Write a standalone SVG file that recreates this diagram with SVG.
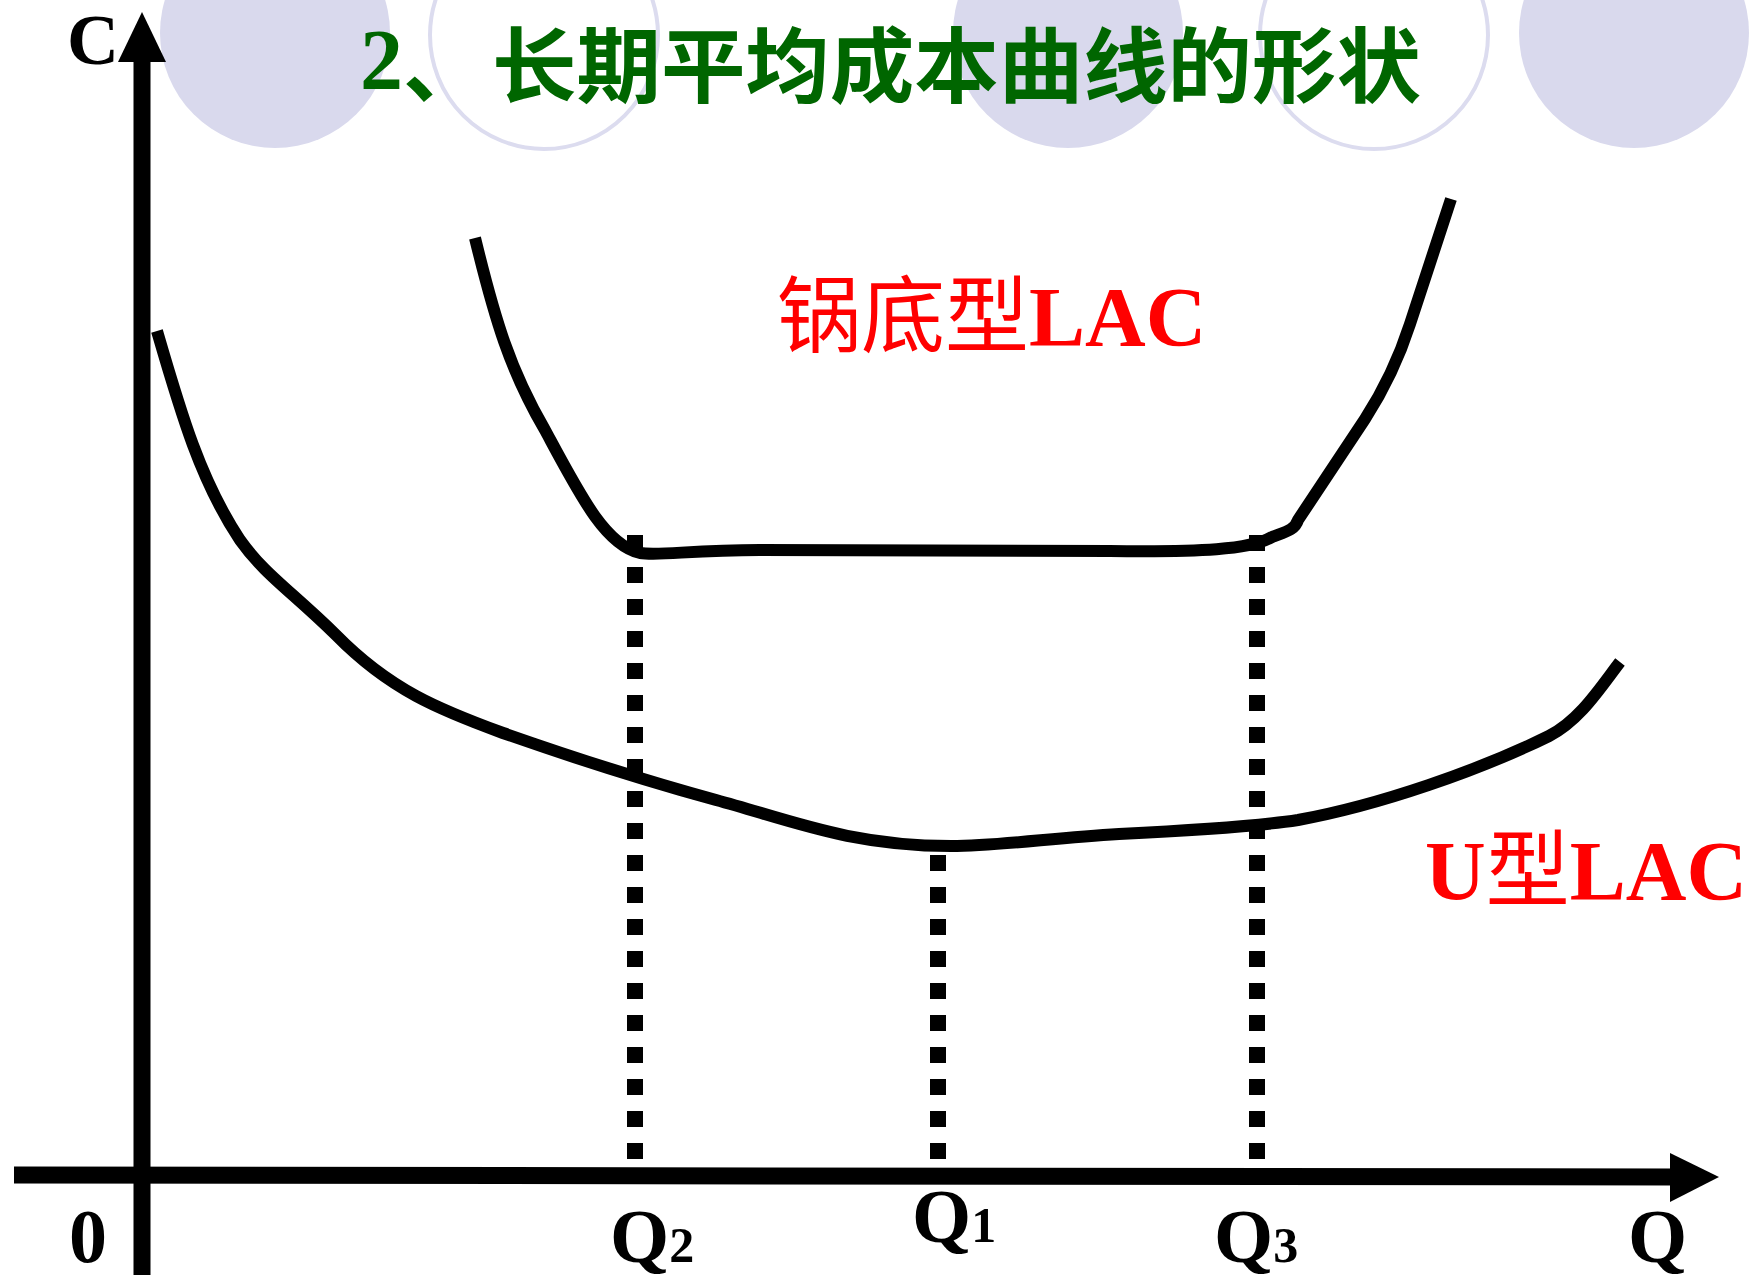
<svg xmlns="http://www.w3.org/2000/svg" width="1754" height="1275" viewBox="0 0 1754 1275">
<style>
.bgfill{fill:#D9D9ED;stroke:none}
.bgring{fill:none;stroke:#DCDCEF;stroke-width:4}
.title{font-family:"Noto Sans CJK SC","Noto Sans",sans-serif;font-weight:700;fill:#006600}
.titlenum{font-family:"Liberation Serif",serif;font-weight:700;fill:#006600}
.curve{fill:none;stroke:#000;stroke-width:12;stroke-linecap:butt;stroke-linejoin:round}
.axis{stroke:#000;stroke-width:17;fill:none}
.dash{stroke:#000;stroke-width:16;stroke-dasharray:16 16;fill:none}
.lab{font-family:"Liberation Serif","Times New Roman",serif;font-weight:700;fill:#000}
.red{font-family:"Liberation Serif","Times New Roman",serif;font-weight:700;fill:#FF0000;font-size:84px}
.redcjk{font-family:"Noto Sans CJK SC","Noto Sans",sans-serif;font-weight:400}
</style>
<rect x="0" y="0" width="1754" height="1275" fill="#FFFFFF"/>
<g id="background">
<circle class="bgfill" cx="275" cy="33" r="115"/>
<circle class="bgring" cx="544" cy="35" r="114"/>
<circle class="bgfill" cx="1068" cy="33" r="115"/>
<circle class="bgring" cx="1374" cy="35" r="114"/>
<circle class="bgfill" cx="1634" cy="33" r="115"/>
</g>
<g id="title">
<text class="titlenum" x="360" y="89" font-size="86">2</text>
<text class="title" x="403" y="96" font-size="82">、</text>
<text class="title" x="492" y="96" font-size="82" textLength="929" lengthAdjust="spacingAndGlyphs">长期平均成本曲线的形状</text>
</g>
<g id="axes">
<line class="axis" x1="142" y1="58" x2="142" y2="1275"/>
<polygon points="142,12 118,62 166,62" fill="#000"/>
<line class="axis" x1="14" y1="1175" x2="1674" y2="1177" stroke-width="16"/>
<polygon points="1670,1153 1719,1177 1670,1202" fill="#000"/>
</g>
<g id="connectors">
<line class="dash" x1="635" y1="535" x2="635" y2="1159"/>
<line class="dash" x1="938" y1="855" x2="938" y2="1159"/>
<line class="dash" x1="1257" y1="535" x2="1257" y2="1159"/>
<path id="pot-lac" class="curve" d="M475,238 C495,320 510,370 545,430 C580,495 605,545 640,553 C660,556 690,550 760,550 L1110,551 C1200,552 1250,550 1272,537 C1285,532 1295,530 1298,520 L1365,419 C1385,388 1400,355 1410,324 L1451,199"/>
<path id="u-lac" class="curve" d="M157,331 C180,410 200,480 240,540 C265,575 290,590 336,635 C390,690 440,710 503,733 C580,760 650,782 716,800 C790,820 850,846 951,846 C1000,846 1050,838 1119,834 C1180,831 1260,826 1298,820 C1380,805 1480,770 1549,736 C1580,720 1600,688 1620,662"/>
</g>
<g id="curve-labels">
<text class="red" x="777" y="346"><tspan class="redcjk">锅底型</tspan>LAC</text>
<text class="red" x="1425" y="900">U<tspan class="redcjk">型</tspan>LAC</text>
</g>
<g id="axis-labels">
<text class="lab" x="67" y="64" font-size="72">C</text>
<text class="lab" x="69" y="1262" font-size="76">0</text>
<text class="lab" x="610" y="1262" font-size="76">Q<tspan font-size="50">2</tspan></text>
<text class="lab" x="912" y="1242" font-size="76">Q<tspan font-size="50">1</tspan></text>
<text class="lab" x="1214" y="1262" font-size="76">Q<tspan font-size="50">3</tspan></text>
<text class="lab" x="1628" y="1262" font-size="76">Q</text>
</g>
</svg>
